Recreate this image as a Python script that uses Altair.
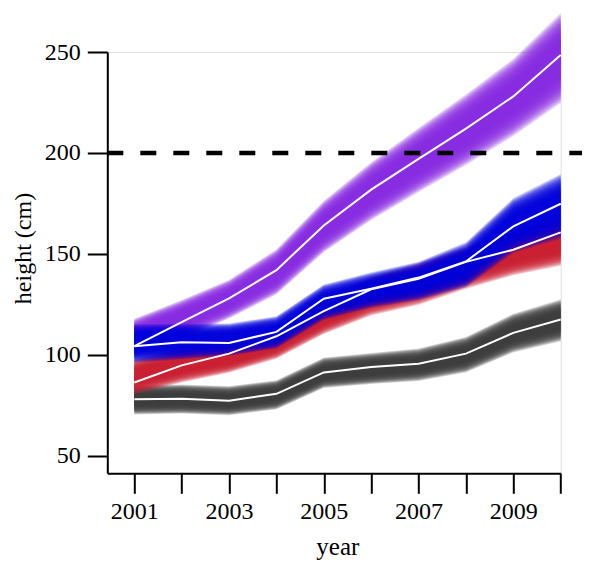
import altair as alt
import pandas as pd

# ---- data ----
years = [2001, 2002, 2003, 2004, 2005, 2006, 2007, 2008, 2009, 2010]

# white mean lines
mean_purple = [104.2, 116.1, 127.9, 141.9, 164.0, 181.8, 197.0, 212.0, 228.0, 248.5]
mean_blue = [104.2, 106.1, 105.8, 111.3, 127.7, 132.7, 138.2, 146.2, 163.6, 174.8]
mean_red = [86.2, 94.7, 100.5, 109.1, 121.6, 132.4, 137.6, 146.0, 152.0, 160.6]
mean_gray = [77.9, 78.1, 77.2, 80.6, 91.2, 93.9, 95.5, 100.5, 110.8, 117.4]

# band centres and core half-widths
center_purple = [109.0, 117.5, 127.5, 141.0, 163.5, 181.0, 196.5, 211.5, 227.5, 247.0]
halfw_purple = [5.5, 6.0, 6.0, 7.0, 8.0, 9.0, 10.0, 11.0, 12.0, 14.0]
center_blue = [105.5, 106.5, 107.5, 111.0, 126.0, 132.0, 136.5, 144.5, 164.0, 173.5]
halfw_blue = [6.0, 5.5, 5.0, 5.0, 5.5, 5.5, 6.0, 7.0, 8.5, 10.0]
center_red = [89.0, 95.0, 99.0, 106.0, 119.0, 129.0, 135.0, 143.0, 150.5, 156.0]
halfw_red = [5.5, 5.5, 5.0, 5.0, 5.5, 6.0, 6.5, 6.5, 7.0, 7.5]
center_gray = [77.6, 78.0, 77.2, 80.1, 91.0, 93.1, 95.0, 100.0, 110.7, 117.0]
halfw_gray = [4.5, 4.5, 4.5, 4.5, 4.7, 4.8, 5.0, 5.5, 6.0, 6.5]

threshold = [200]
y_ticks = [50, 100, 150, 200, 250]

# ---- styling ----
FONT = "Liberation Serif"
spread = [0.6 + 0.05 * i for i in range(21)]
X_DOMAIN = [2000.43, 2010]
Y_DOMAIN = [41.2, 250]

x_axis = alt.Axis(
    values=years, format="d",
    labelExpr="datum.value % 2 == 1 ? datum.label : ''",
    tickSize=20, tickWidth=2, tickColor="black",
    domainWidth=2, domainColor="black",
    labelFont=FONT, labelFontSize=24, labelColor="black", labelPadding=6,
    labelFlush=False, labelOverlap=False,
    title="year", titleFont=FONT, titleFontSize=25, titleFontWeight="normal",
    titleColor="black", titleX=230, titleY=81, titleBaseline="alphabetic",
    grid=False,
)
y_axis = alt.Axis(
    values=y_ticks,
    tickSize=20, tickWidth=2, tickColor="black",
    domainWidth=2, domainColor="black",
    labelFont=FONT, labelFontSize=24, labelColor="black", labelPadding=7,
    labelFlush=False, labelOverlap=False,
    title="height (cm)", titleFont=FONT, titleFontSize=24, titleFontWeight="normal",
    titleColor="black", titleX=-77.3, titleY=196, titleAngle=270,
    titleAlign="center", titleBaseline="alphabetic",
    grid=False,
)

x_scale = alt.Scale(domain=X_DOMAIN, nice=False, zero=False)
y_scale = alt.Scale(domain=Y_DOMAIN, nice=False, zero=False)


def band(color, centers, halfws):
    rows = []
    for k, s in enumerate(spread):
        for yr, c, w in zip(years, centers, halfws):
            rows.append({"year": yr, "layer": k, "lo": c - s * w, "hi": c + s * w})
    return alt.Chart(pd.DataFrame(rows)).mark_area(
        color=color, opacity=0.17, strokeWidth=0, interpolate="linear"
    ).encode(
        x=alt.X("year:Q", scale=x_scale, axis=x_axis),
        y=alt.Y("lo:Q", scale=y_scale, axis=y_axis),
        y2="hi:Q",
        detail="layer:N",
    )


bands = [
    band("#8a2be2", center_purple, halfw_purple),
    band("#3a3a3a", center_gray, halfw_gray),
    band("#c81e32", center_red, halfw_red),
    band("#0000dd", center_blue, halfw_blue),
]

line_rows = []
for name, vals in [("purple", mean_purple), ("gray", mean_gray),
                   ("red", mean_red), ("blue", mean_blue)]:
    for yr, v in zip(years, vals):
        line_rows.append({"year": yr, "value": v, "group": name})

lines = alt.Chart(pd.DataFrame(line_rows)).mark_line(
    color="white", strokeWidth=2
).encode(
    x=alt.X("year:Q", scale=x_scale, axis=x_axis),
    y=alt.Y("value:Q", scale=y_scale, axis=y_axis),
    detail="group:N",
)

rule = alt.Chart(pd.DataFrame({"h": threshold})).mark_rule(
    color="black", strokeWidth=4.5, strokeDash=[16, 17]
).encode(
    y=alt.Y("h:Q", scale=y_scale, axis=y_axis),
    x=alt.datum(2000.43),
    x2=alt.datum(2010.62),
)

chart = alt.layer(*bands, lines, rule).properties(
    width=453.4,
    height=421.3,
    autosize=alt.AutoSizeParams(type="none"),
    padding={"left": 99.3, "top": 44, "right": 21.3, "bottom": 87.7},
).configure_view(stroke=None).configure(background="white")

chart.save("out.html", embed_options={"renderer": "svg", "actions": False})
